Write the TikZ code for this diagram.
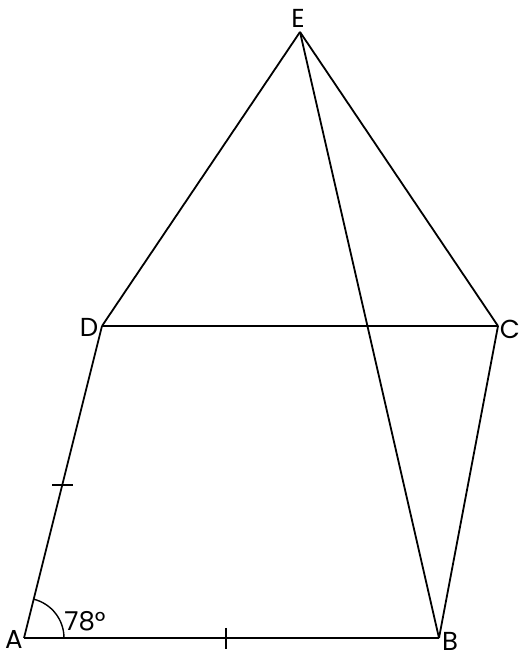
\documentclass[tikz,border=0pt]{standalone}
\usepackage{fontspec}
\setmainfont{Poppins}
\begin{document}
\begin{tikzpicture}[x=1pt, y=1pt, line width=1.8pt]
			\tikzstyle{vertex} = [inner sep=0pt, minimum size=0pt]
			\tikzstyle{lbl}    = [inner sep=0pt, font=\fontsize{26}{30}\selectfont]
			\tikzstyle{tick}   = [line width=1.4pt]

			\useasboundingbox (0,0) rectangle (525,663);

			\foreach \name/\x/\y in {A/24/25, B/439/25, C/498/337, D/102/337, E/300/631}
				\node[vertex] (\name) at (\x, \y) {};

			\foreach \name/\x/\y in {A/14/24, B/450/22, C/510/334, D/89/336, E/298/645}
				\node[lbl] (l\name) at (\x, \y) {\name};

			\foreach \from/\to in {A/B, B/C, C/D, D/A, D/E, E/C, E/B}
				\path[-] (\from.center) edge (\to.center);

			% equal sides
			\coordinate (tAD1) at (52,178);
			\coordinate (tAD2) at (73,178);
			\coordinate (tAB1) at (226,35);
			\coordinate (tAB2) at (226,14);
			\draw[tick] (tAD1) -- (tAD2);
			\draw[tick] (tAB1) -- (tAB2);

			% angle at A
			\draw[line width=1.4pt] ([xshift=40pt]A.center) arc (0:76:40pt);
			\node[lbl] (ang) at (85,42) {78°};
		\end{tikzpicture}
\end{document}
